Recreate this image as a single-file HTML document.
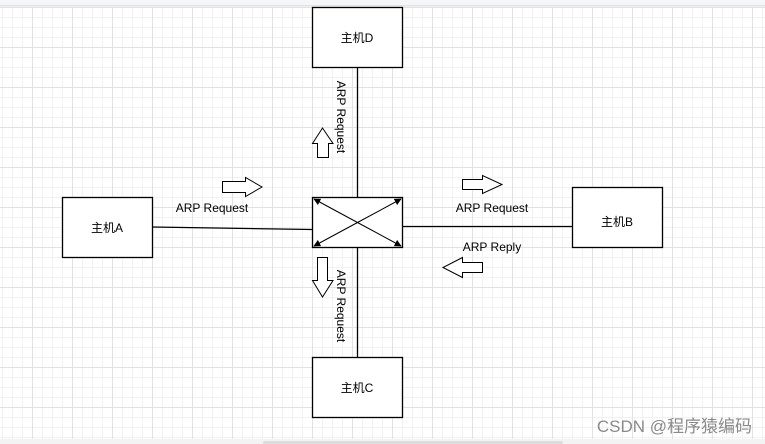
<!DOCTYPE html>
<html><head><meta charset="utf-8"><style>
html,body{margin:0;padding:0;background:#fff;}
svg{display:block;}
text{font-family:"Liberation Sans","Noto Sans CJK SC",sans-serif;font-size:12px;fill:#000;}
</style></head><body>
<svg width="765" height="444" viewBox="0 0 765 444" xmlns="http://www.w3.org/2000/svg">
<defs>
<pattern id="mi" x="2" y="7" width="10" height="10" patternUnits="userSpaceOnUse">
<path d="M0.5 0V10M0 0.5H10" stroke="#f1f1f1" stroke-width="1" fill="none"/>
</pattern>
<pattern id="ma" x="32" y="7" width="40" height="40" patternUnits="userSpaceOnUse">
<path d="M0.5 0V40M0 0.5H40" stroke="#e2e2e2" stroke-width="1" fill="none"/>
</pattern>
<marker id="ah" viewBox="0 0 10 10" refX="9" refY="5" markerWidth="7" markerHeight="7" orient="auto">
<path d="M0 0L10 5L0 10z" fill="#000"/>
</marker>
</defs>
<rect x="0" y="0" width="765" height="444" fill="#fff"/>
<rect x="0" y="7" width="765" height="432" fill="url(#mi)"/>
<rect x="0" y="7" width="765" height="432" fill="url(#ma)"/>
<rect x="0" y="0" width="765" height="6" fill="#f5f6f8"/>
<rect x="0" y="5" width="765" height="1.5" fill="#e2e2e4"/>
<rect x="0" y="439" width="765" height="5" fill="#f3f3f3"/>
<rect x="263" y="441" width="300" height="3" rx="1.5" fill="#dcdcdc"/>

<g stroke="#000" stroke-width="1.3" fill="none">
<line x1="152" y1="227" x2="312" y2="229.5"/>
<line x1="402" y1="226.5" x2="572" y2="226.5"/>
<line x1="357.5" y1="67" x2="357.5" y2="197"/>
<line x1="357.5" y1="247" x2="357.5" y2="357"/>
</g>

<g stroke="#000" stroke-width="1.3" fill="#fff">
<rect x="312.5" y="7.5" width="90" height="60"/>
<rect x="62.5" y="197.5" width="90" height="60"/>
<rect x="572.5" y="187.5" width="90" height="60"/>
<rect x="312.5" y="357.5" width="90" height="60"/>
<rect x="312.5" y="197.5" width="90" height="50"/>
</g>
<g stroke="#000" stroke-width="1" marker-end="url(#ah)">
<line x1="357.5" y1="222.5" x2="314" y2="199"/>
<line x1="357.5" y1="222.5" x2="401" y2="199"/>
<line x1="357.5" y1="222.5" x2="314" y2="246"/>
<line x1="357.5" y1="222.5" x2="401" y2="246"/>
</g>

<g stroke="#000" stroke-width="1" fill="#fff">
<path d="M222.5 181.5H245.5V177.5L262 187L245.5 196.5V192.5H222.5Z"/>
<path d="M462.5 179.5H482.5V175.5L502 184.5L482.5 193.5V189.5H462.5Z"/>
<path d="M482.5 262.5H462.5V257.5L443 267.5L462.5 277.5V272.5H482.5Z"/>
<path d="M317.5 157.5V143.5H312.5L322.5 128L333 143.5H328.5V157.5Z"/>
<path d="M317.5 257.5V280.5H312.5L322.5 297L333 280.5H327.5V257.5Z"/>
</g>

<text x="357" y="42" text-anchor="middle">主机D</text>
<text x="107" y="232" text-anchor="middle">主机A</text>
<text x="617" y="226" text-anchor="middle">主机B</text>
<text x="357" y="392" text-anchor="middle">主机C</text>
<text x="212" y="212" text-anchor="middle">ARP Request</text>
<text x="492" y="212" text-anchor="middle">ARP Request</text>
<text x="492" y="251" text-anchor="middle">ARP Reply</text>
<text transform="translate(337,117) rotate(90)" text-anchor="middle">ARP Request</text>
<text transform="translate(337,306) rotate(90)" text-anchor="middle">ARP Request</text>
<text x="752" y="432" text-anchor="end" style="font-size:17px;fill:#8a8a8a">CSDN @程序猿编码</text>
</svg>
</body></html>
